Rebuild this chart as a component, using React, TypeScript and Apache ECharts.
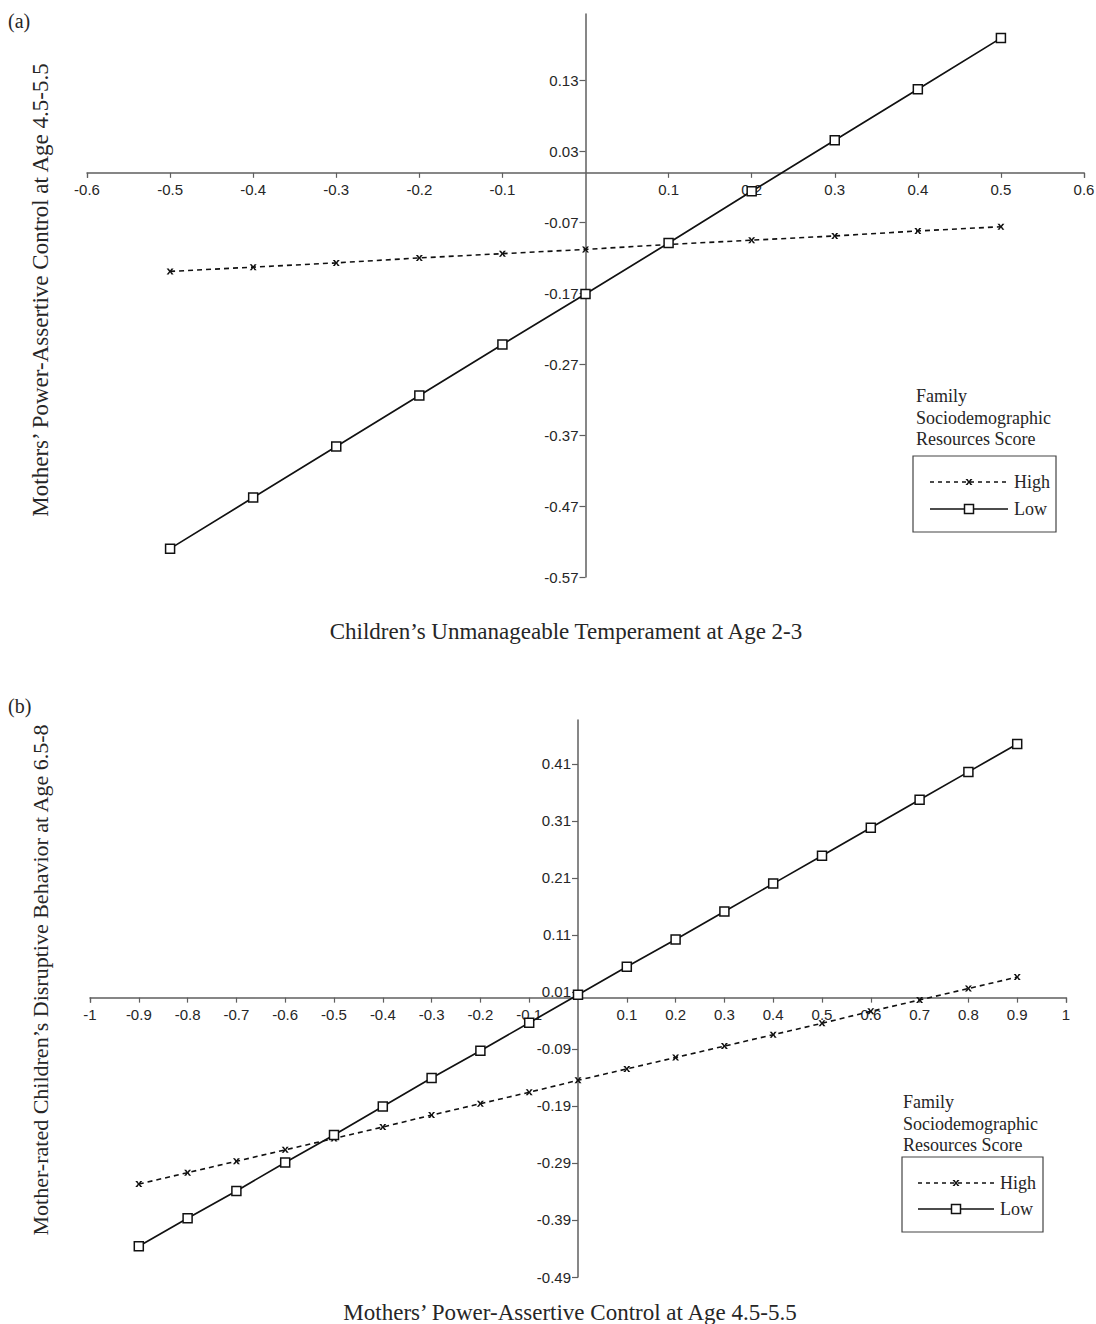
import React, { useEffect, useRef } from "react";
import * as echarts from "echarts";

// ---------- data ----------
const X_A = [-0.5, -0.4, -0.3, -0.2, -0.1, 0, 0.1, 0.2, 0.3, 0.4, 0.5];
const HIGH_A = [-0.139, -0.133, -0.127, -0.12, -0.114, -0.108, -0.101, -0.095, -0.089, -0.082, -0.076];
const LOW_A = [-0.53, -0.458, -0.386, -0.314, -0.242, -0.171, -0.099, -0.026, 0.046, 0.118, 0.19];
const XTICKS_A = [-0.6, -0.5, -0.4, -0.3, -0.2, -0.1, 0.1, 0.2, 0.3, 0.4, 0.5, 0.6];
const YTICKS_A = [-0.57, -0.47, -0.37, -0.27, -0.17, -0.07, 0.03, 0.13];

const X_B = [-0.9, -0.8, -0.7, -0.6, -0.5, -0.4, -0.3, -0.2, -0.1, 0, 0.1, 0.2, 0.3, 0.4, 0.5, 0.6, 0.7, 0.8, 0.9];
const HIGH_B = [-0.327, -0.307, -0.287, -0.267, -0.247, -0.227, -0.206, -0.186, -0.166, -0.145, -0.125, -0.105, -0.085, -0.065, -0.045, -0.024, -0.004, 0.016, 0.036];
const LOW_B = [-0.436, -0.387, -0.339, -0.289, -0.241, -0.191, -0.141, -0.093, -0.044, 0.005, 0.054, 0.102, 0.151, 0.2, 0.249, 0.298, 0.347, 0.396, 0.445];
const XTICKS_B = [-1, -0.9, -0.8, -0.7, -0.6, -0.5, -0.4, -0.3, -0.2, -0.1, 0.1, 0.2, 0.3, 0.4, 0.5, 0.6, 0.7, 0.8, 0.9, 1];
const YTICKS_B = [-0.49, -0.39, -0.29, -0.19, -0.09, 0.01, 0.11, 0.21, 0.31, 0.41];

const TITLE_A_X = "Children\u2019s Unmanageable Temperament at Age 2-3";
const TITLE_A_Y = "Mothers\u2019 Power-Assertive Control at Age 4.5-5.5";
const TITLE_B_X = "Mothers\u2019 Power-Assertive Control at Age 4.5-5.5";
const TITLE_B_Y = "Mother-rated Children\u2019s Disruptive Behavior at Age 6.5-8";
const LEGEND_TITLE = ["Family", "Sociodemographic", "Resources Score"];
const LEGEND_ITEMS = ["High", "Low"];

const XMARK_D = "M0,0L3,0L5,3.5L7,0L10,0L6.5,5L10,10L7,10L5,6.5L3,10L0,10L3.5,5Z";
echarts.graphic.registerShape("xmark", echarts.graphic.extendPath(XMARK_D, {}) as any);

const SANS = "'Liberation Sans', Arial, sans-serif";
const SERIF = "'Liberation Serif', 'Times New Roman', serif";
const AXIS_COLOR = "#5f5f5f";
const TEXT_COLOR = "#262626";

// panel layout (pixels)
const GRID_A = { left: 87, top: 14, width: 997, height: 563 };
const GRID_B = { left: 90, top: 720, width: 976, height: 557 };
const RANGE_A = { xmin: -0.6, xmax: 0.6, ymin: -0.57, ymax: 0.224 };
const RANGE_B = { xmin: -1, xmax: 1, ymin: -0.49, ymax: 0.487 };

function pairs(xs: number[], ys: number[]) {
  return xs.map((x, i) => [x, ys[i]]);
}

function xAxisCfg(grid: number, r: any, g: any, ticks: number[]) {
  // move the bottom axis up to y = 0
  const offset = -((0 - r.ymin) / (r.ymax - r.ymin)) * g.height;
  return {
    type: "value",
    gridIndex: grid,
    min: r.xmin,
    max: r.xmax,
    position: "bottom",
    offset,
    axisLine: { onZero: false, lineStyle: { color: AXIS_COLOR, width: 1.5 } },
    axisTick: { customValues: [r.xmin, ...ticks, r.xmax], length: 5, lineStyle: { color: AXIS_COLOR, width: 1.2 } },
    axisLabel: {
      customValues: ticks,
      margin: 9,
      color: TEXT_COLOR,
      fontFamily: SANS,
      fontSize: 15,
      formatter: (v: number) => String(Math.round(v * 10) / 10),
    },
    splitLine: { show: false },
  };
}

function yAxisCfg(grid: number, r: any, g: any, ticks: number[]) {
  // move the left axis right to x = 0
  const offset = -((0 - r.xmin) / (r.xmax - r.xmin)) * g.width;
  return {
    type: "value",
    gridIndex: grid,
    min: r.ymin,
    max: r.ymax,
    position: "left",
    offset,
    axisLine: { onZero: false, lineStyle: { color: AXIS_COLOR, width: 1.5 } },
    axisTick: { customValues: ticks, length: 6, lineStyle: { color: AXIS_COLOR, width: 1.2 } },
    axisLabel: {
      customValues: ticks,
      margin: 7,
      color: TEXT_COLOR,
      fontFamily: SANS,
      fontSize: 15,
      formatter: (v: number) => v.toFixed(2),
    },
    splitLine: { show: false },
  };
}

function seriesPair(idx: number, xs: number[], high: number[], low: number[]) {
  return [
    {
      name: "High",
      type: "line",
      xAxisIndex: idx,
      yAxisIndex: idx,
      data: pairs(xs, high),
      symbol: "path://" + XMARK_D,
      symbolSize: [7, 6],
      itemStyle: { color: "#111" },
      lineStyle: { color: "#111", width: 1.6, type: [5, 4] },
      z: 3,
    },
    {
      name: "Low",
      type: "line",
      xAxisIndex: idx,
      yAxisIndex: idx,
      data: pairs(xs, low),
      symbol: "rect",
      symbolSize: 9,
      itemStyle: { color: "#fff", borderColor: "#111", borderWidth: 1.5 },
      lineStyle: { color: "#111", width: 1.7 },
      z: 4,
    },
  ];
}

function legendGraphic(tx: number, ty: number, bx: number, by: number, bw: number, bh: number, lx0: number, lx1: number, rowH: number, rowL: number, textX: number) {
  const els: any[] = [];
  const font = `18px ${SERIF}`;
  LEGEND_TITLE.forEach((t, i) => {
    els.push({
      type: "text",
      x: tx,
      y: ty + i * 21.5,
      style: { text: t, font, fill: TEXT_COLOR, textVerticalAlign: "middle" },
    });
  });
  els.push({
    type: "rect",
    shape: { x: bx, y: by, width: bw, height: bh },
    style: { fill: "none", stroke: "#444", lineWidth: 1.2 },
  });
  const mid = (lx0 + lx1) / 2;
  els.push({
    type: "line",
    shape: { x1: lx0, y1: rowH, x2: lx1, y2: rowH },
    style: { stroke: "#111", lineWidth: 1.5, lineDash: [4, 4] },
  });
  els.push({
    type: "xmark",
    x: mid - 3.5,
    y: rowH - 3,
    scaleX: 0.7,
    scaleY: 0.6,
    style: { fill: "#111" },
  });
  els.push({
    type: "line",
    shape: { x1: lx0, y1: rowL, x2: lx1, y2: rowL },
    style: { stroke: "#111", lineWidth: 1.5 },
  });
  els.push({
    type: "rect",
    shape: { x: mid - 4.5, y: rowL - 4.5, width: 9, height: 9 },
    style: { fill: "#fff", stroke: "#111", lineWidth: 1.5 },
  });
  els.push({
    type: "text",
    x: textX,
    y: rowH,
    style: { text: LEGEND_ITEMS[0], font, fill: TEXT_COLOR, textVerticalAlign: "middle" },
  });
  els.push({
    type: "text",
    x: textX,
    y: rowL,
    style: { text: LEGEND_ITEMS[1], font, fill: TEXT_COLOR, textVerticalAlign: "middle" },
  });
  return els;
}

export default function App() {
  const ref = useRef<HTMLDivElement>(null);
  useEffect(() => {
    document.body.style.margin = "0";
    if (!ref.current) return;
    const chart = echarts.init(ref.current, undefined, { renderer: "svg" });
    const titleFont = `23px ${SERIF}`;
    const option: any = {
      animation: false,
      backgroundColor: "#fff",
      grid: [
        { ...GRID_A, outerBoundsMode: "none" },
        { ...GRID_B, outerBoundsMode: "none" },
      ],
      xAxis: [xAxisCfg(0, RANGE_A, GRID_A, XTICKS_A), xAxisCfg(1, RANGE_B, GRID_B, XTICKS_B)],
      yAxis: [yAxisCfg(0, RANGE_A, GRID_A, YTICKS_A), yAxisCfg(1, RANGE_B, GRID_B, YTICKS_B)],
      series: [...seriesPair(0, X_A, HIGH_A, LOW_A), ...seriesPair(1, X_B, HIGH_B, LOW_B)],
      graphic: [
        { type: "text", x: 8, y: 21, style: { text: "(a)", font: `20px ${SERIF}`, fill: TEXT_COLOR, textVerticalAlign: "middle" } },
        { type: "text", x: 8, y: 706, style: { text: "(b)", font: `20px ${SERIF}`, fill: TEXT_COLOR, textVerticalAlign: "middle" } },
        { type: "text", x: 566, y: 631, style: { text: TITLE_A_X, font: titleFont, fill: TEXT_COLOR, textAlign: "center", textVerticalAlign: "middle" } },
        { type: "text", x: 40, y: 290, rotation: Math.PI / 2, style: { text: TITLE_A_Y, font: titleFont, fill: TEXT_COLOR, textAlign: "center", textVerticalAlign: "middle" } },
        { type: "text", x: 570, y: 1312, style: { text: TITLE_B_X, font: titleFont, fill: TEXT_COLOR, textAlign: "center", textVerticalAlign: "middle" } },
        { type: "text", x: 40, y: 980, rotation: Math.PI / 2, style: { text: TITLE_B_Y, font: `22px ${SERIF}`, fill: TEXT_COLOR, textAlign: "center", textVerticalAlign: "middle" } },
        ...legendGraphic(916, 396, 913, 456, 143, 76, 930, 1008, 482, 509, 1014),
        ...legendGraphic(903, 1102, 902, 1157, 141, 75, 918, 994, 1183, 1209, 1000),
      ],
    };
    chart.setOption(option);
    return () => chart.dispose();
  }, []);
  return <div ref={ref} style={{ width: 1096, height: 1324 }} />;
}
